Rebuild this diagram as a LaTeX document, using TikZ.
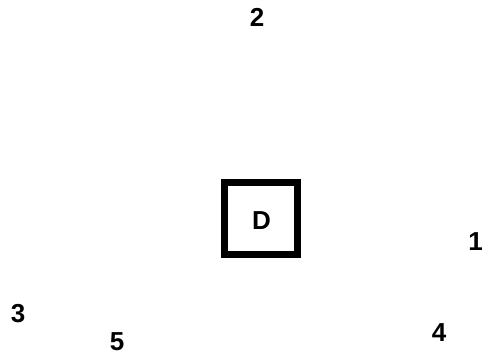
\documentclass[tikz,border=0pt]{standalone}
\usepackage{fontspec}
\setmainfont{Liberation Sans}
\begin{document}
\begin{tikzpicture}[x=1pt,y=1pt,
  lbl/.style={font=\fontsize{26}{28}\selectfont\bfseries, inner sep=0pt, anchor=center},
  dbox/.style={draw=black, line width=7pt, minimum width=72.5pt, minimum height=72pt, inner sep=0pt}]
\useasboundingbox (0,0) rectangle (482,356);
\node[dbox] (d) at (260.75,137.5) {};
\node[lbl] (dl) at (261.5,135.5) {D};
\node[lbl] (n2) at (257,338.5) {2};
\node[lbl] (n1) at (475.5,114) {1};
\node[lbl] (n3) at (18,42.5) {3};
\node[lbl] (n5) at (117,14) {5};
\node[lbl] (n4) at (439,23) {4};
\end{tikzpicture}
\end{document}
